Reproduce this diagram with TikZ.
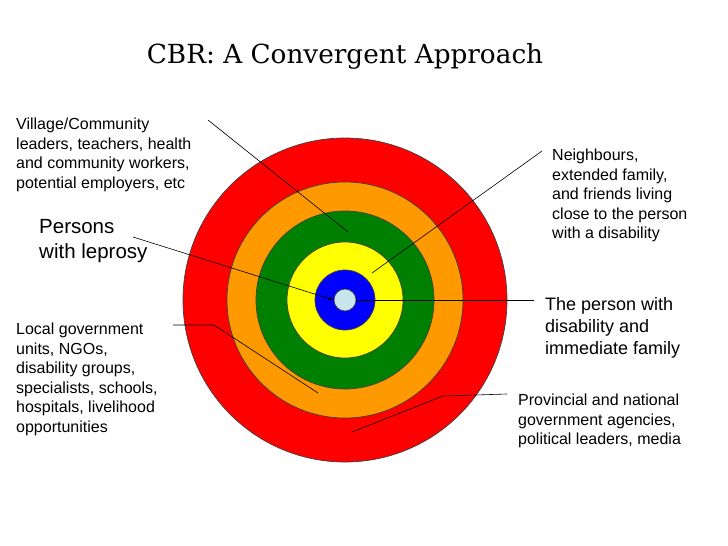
\documentclass[tikz,border=0pt]{standalone}
\usepackage{fontspec}
\setmainfont{Liberation Sans}
\newfontfamily\titlefont{DejaVu Serif}
\usetikzlibrary{arrows,positioning}
\definecolor{ringred}{RGB}{255,0,0}
\definecolor{ringorange}{RGB}{255,153,0}
\definecolor{ringgreen}{RGB}{0,128,0}
\definecolor{ringyellow}{RGB}{255,255,0}
\definecolor{ringblue}{RGB}{0,0,255}
\definecolor{ringcore}{RGB}{200,228,236}
\tikzset{
ring/.style= {circle, draw=black!75, line width=0.7pt, inner sep=0pt},
textsmall/.style= {anchor=north west, inner sep=0pt, align=left, font=\fontsize{16}{19.5}\selectfont},
textbig/.style= {anchor=north west, inner sep=0pt, align=left, font=\fontsize{18}{22}\selectfont},
pointer/.style= {line width=0.6pt, black}
}

\begin{document}
\begin{tikzpicture}[x=1pt,y=-1pt,>=latex]
\useasboundingbox (0,0) rectangle (728,546);

% the title
\node[font=\titlefont\fontsize{26.3}{30}\selectfont, anchor=base, inner sep=0pt] (title) at (345,63) {CBR: A Convergent Approach};

% the rings, from the outside in
\coordinate (c) at (345,300);
\foreach \r/\col [count=\i] in {162/ringred,118/ringorange,89/ringgreen,58/ringyellow,30/ringblue,11/ringcore}
  \node[ring, fill=\col, minimum size={2*\r pt}] (ring\i) at (c) {};

% the texts round the rings
\node[textsmall] (leaders) at (16,118) {Village/Community\\leaders, teachers, health\\and community workers,\\potential employers, etc};
\node[textbig, font=\fontsize{20.5}{25}\selectfont] (leprosy) at (39,219) {Persons\\with leprosy};
\node[textsmall] (neighbours) at (552,149) {Neighbours,\\extended family,\\and friends living\\close to the person\\with a disability};
\node[textbig] (person) at (545,297) {The person with\\disability and\\immediate family};
\node[textsmall] (local) at (16,323) {Local government\\units, NGOs,\\disability groups,\\specialists, schools,\\hospitals, livelihood\\opportunities};
\node[textsmall] (provincial) at (518,394) {Provincial and national\\government agencies,\\political leaders, media};

% ends of the lines
\coordinate (leadersstart) at (208,120);
\coordinate (leadersend) at (348,232);
\coordinate (leprosystart) at (133,237);
\coordinate (neighboursstart) at (542,151);
\coordinate (neighboursend) at (372,273);
\coordinate (localstart) at (173,325);
\coordinate (localbend) at (214,325);
\coordinate (localend) at (318,393);
\coordinate (provincialbend) at (443,396);
\coordinate (provincialend) at (352,432);

% the lines from each text to its ring
\draw[pointer] (leadersstart) -- (leadersend);
\draw[pointer,->] (leprosystart) -- (ring6.west);
\draw[pointer] (neighboursstart) -- (neighboursend);
\draw[pointer] (ring6.east) -- ([xshift=-11pt]ring6.east -| person.west);
\draw[pointer] (localstart) -- (localbend) -- (localend);
\draw[pointer] ([xshift=-11pt]provincial.north west) -- (provincialbend) -- (provincialend);

\end{tikzpicture}
\end{document}
